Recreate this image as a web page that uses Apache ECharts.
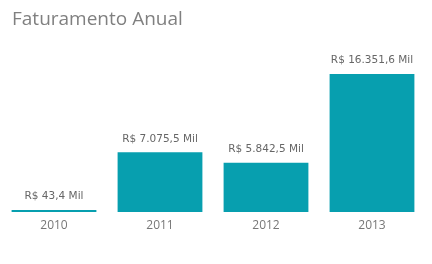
<!DOCTYPE html>
<html><head><meta charset="utf-8">
<script src="https://cdn.jsdelivr.net/npm/echarts@6/dist/echarts.min.js"></script>
<style>html,body{margin:0;padding:0;background:#fff}#c{width:432px;height:264px}</style>
</head><body><div id="c"></div>
<script>
const categories = ['2010', '2011', '2012', '2013'];
const values = [43.4, 7075.5, 5842.5, 16351.6];
const labels = ['R$ 43,4 Mil', 'R$ 7.075,5 Mil', 'R$ 5.842,5 Mil', 'R$ 16.351,6 Mil'];

const chart = echarts.init(document.getElementById('c'), null, {renderer: 'canvas'});
chart.setOption({
  animation: false,
  title: {
    text: 'Faturamento Anual', left: 7, top: 5,
    textStyle: {fontFamily: 'Open Sans', fontSize: 19, fontWeight: 'normal', color: '#808080'}
  },
  grid: {left: 1, right: 7, top: 74, bottom: 52},
  xAxis: {
    type: 'category', data: categories,
    axisLine: {show: false}, axisTick: {show: false},
    axisLabel: {color: '#777', fontFamily: 'Open Sans', fontSize: 12, margin: 8}
  },
  yAxis: {type: 'value', min: 0, max: 16351.6, show: false, splitLine: {show: false}},
  series: [{
    type: 'bar', data: values, barCategoryGap: '20%', barMinHeight: 2,
    itemStyle: {color: '#079faf'},
    label: {
      show: true, position: 'top', distance: 8,
      color: '#666', fontFamily: 'DejaVu Sans', fontSize: 10.5,
      formatter: p => labels[p.dataIndex]
    }
  }]
});
</script></body></html>
